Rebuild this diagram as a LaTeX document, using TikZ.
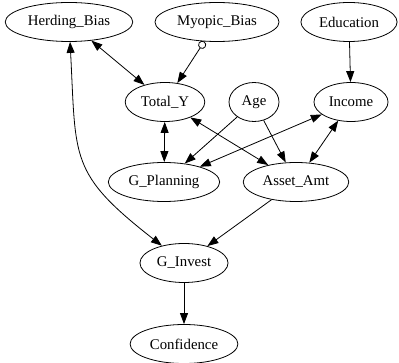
\documentclass[tikz,border=0pt]{standalone}
\usepackage{fontspec}
\setmainfont{Liberation Serif}
\usetikzlibrary{arrows.meta}
\usetikzlibrary{shapes.geometric}
\usetikzlibrary{positioning}
\tikzset{
  gvtip/.tip={Triangle[length=11pt,width=8pt]},
  var/.style={draw, ellipse, line width=0.8pt, minimum height=39pt, minimum width=50pt,
              inner xsep=4pt, font=\fontsize{14.8}{17}\selectfont},
  edge/.style={line width=0.8pt, -gvtip},
  both/.style={line width=0.8pt, gvtip-gvtip},
  odot/.style={line width=0.8pt, {Circle[open,length=8pt]}-gvtip}
}

\begin{document}
\begin{tikzpicture}[x=1pt,y=-1pt]
            % Frame to keep the page size:
            \useasboundingbox (0,0) rectangle (399,363);
            \node[var] (herding)    at ( 69, 22) {Herding\_Bias};
            \node[var] (myopic)     at (217, 22) {Myopic\_Bias};
            \node[var] (education)  at (349, 22) {Education};
            \node[var] (totaly)     at (165,102) {Total\_Y};
            \node[var] (age)        at (254,102) {Age};
            \node[var] (income)     at (351,102) {Income};
            \node[var] (gplanning)  at (164,182) {G\_Planning};
            \node[var] (assetamt)   at (296,182) {Asset\_Amt};
            \node[var] (ginvest)    at (184,263) {G\_Invest};
            \node[var] (confidence) at (184,344) {Confidence};
            % Edges:
            \draw[both] (herding)   -- (totaly);
            \draw[odot] (myopic)    -- (totaly);
            \draw[edge] (education) -- (income);
            \draw[both] (totaly)    -- (gplanning);
            \draw[both] (totaly)    -- (assetamt);
            \draw[edge] (age)       -- (gplanning);
            \draw[edge] (age)       -- (assetamt);
            \draw[both] (income)    -- (gplanning);
            \draw[both] (income)    -- (assetamt);
            \draw[edge] (assetamt)  -- (ginvest);
            \draw[edge] (ginvest)   -- (confidence);
            \draw[both] (herding)   to[out=-87, in=142, looseness=1.35] (ginvest);
        \end{tikzpicture}
\end{document}
